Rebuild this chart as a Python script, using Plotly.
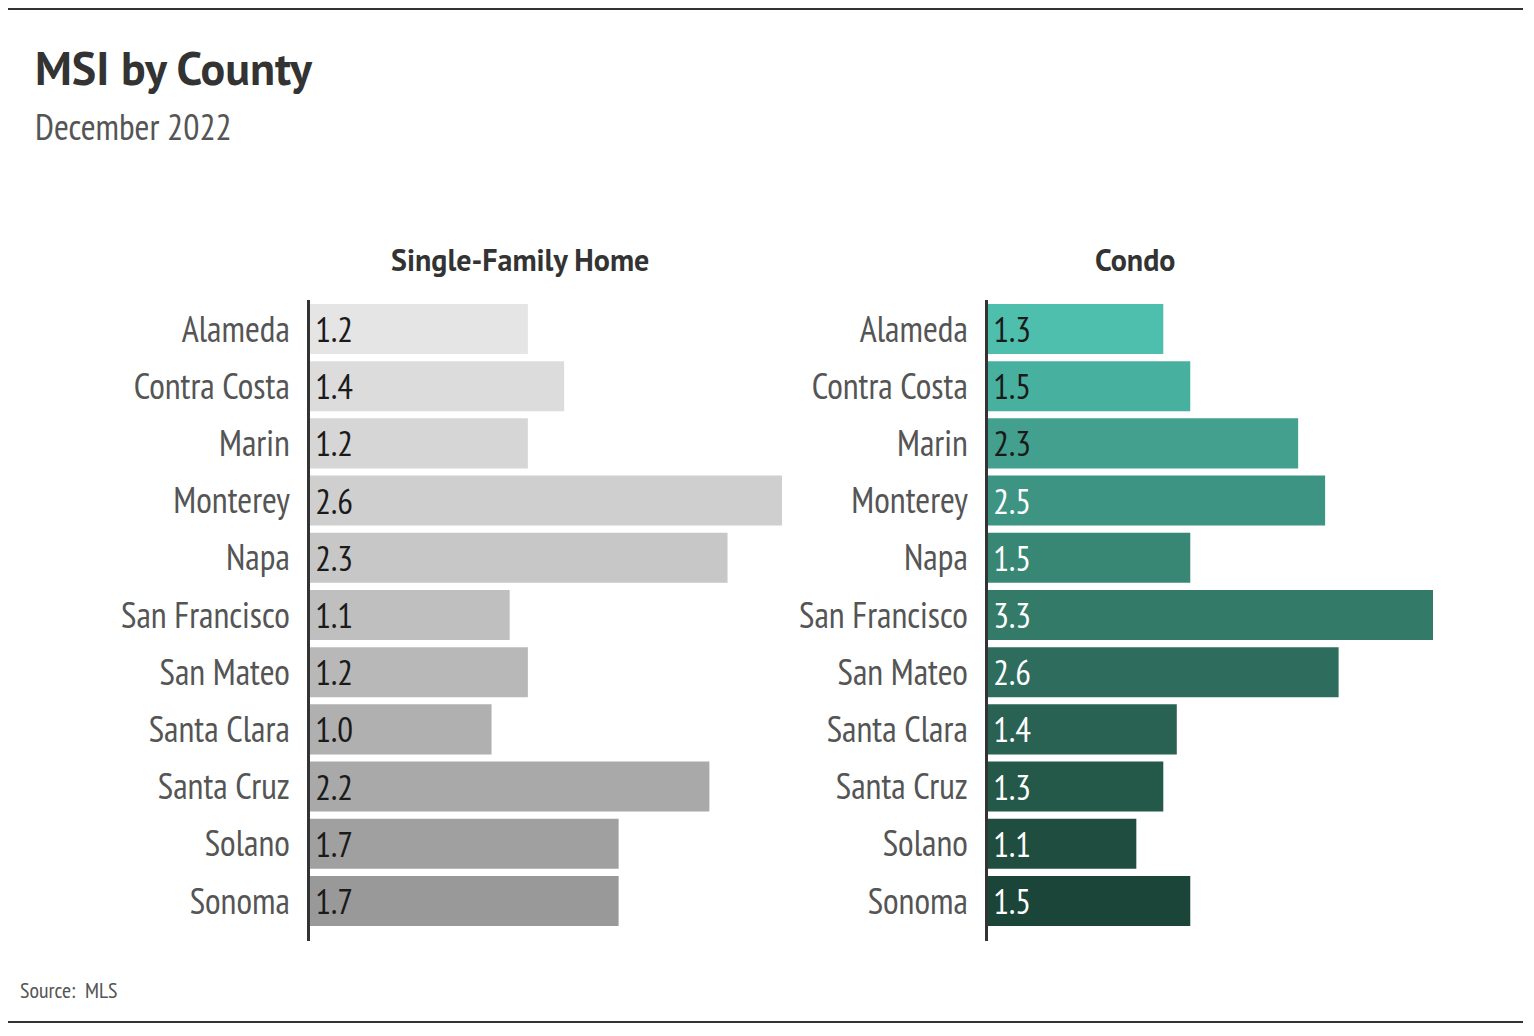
import plotly.graph_objects as go

counties = ["Alameda", "Contra Costa", "Marin", "Monterey", "Napa", "San Francisco",
            "San Mateo", "Santa Clara", "Santa Cruz", "Solano", "Sonoma"]
sfh_msi = [1.2, 1.4, 1.2, 2.6, 2.3, 1.1, 1.2, 1.0, 2.2, 1.7, 1.7]
condo_msi = [1.3, 1.5, 2.3, 2.5, 1.5, 3.3, 2.6, 1.4, 1.3, 1.1, 1.5]

sfh_colors = ["#e5e5e5", "#dcdcdc", "#d6d6d6", "#cfcfcf", "#c7c7c7", "#bfbfbf",
              "#b8b8b8", "#b0b0b0", "#a9a9a9", "#a0a0a0", "#999999"]
condo_colors = ["#4fbfad", "#48b09f", "#43a08f", "#3e9483", "#388774", "#347a69",
                "#2e6d5d", "#296252", "#245848", "#1f4d40", "#1c4539"]
condo_text_colors = ["#1a1a1a"] * 3 + ["#ffffff"] * 8

# page has an 8px body margin; figure is sized to fit inside the window
OFF = 8
W, H = 1534 - 2 * OFF, 1036 - 2 * OFF


def px(x):
    return (x - OFF) / W


def py(y):
    return 1 - (y - OFF) / H


NARROW = "Liberation Sans Narrow, PT Sans Narrow, Arial Narrow, DejaVu Sans Condensed, sans-serif"
BOLD = "PT Sans, Lato, Open Sans, sans-serif"

fig = go.Figure()
fig.add_trace(go.Bar(
    y=counties, x=sfh_msi, orientation="h", xaxis="x", yaxis="y",
    marker=dict(color=sfh_colors, line=dict(width=0)),
    texttemplate="\u200a%{x:.1f}", textposition="inside", insidetextanchor="start",
    textangle=0,
    textfont=dict(family=NARROW, size=35, color="#1a1a1a"), constraintext="none",
    cliponaxis=False, hoverinfo="skip"))
fig.add_trace(go.Bar(
    y=counties, x=condo_msi, orientation="h", xaxis="x2", yaxis="y2",
    marker=dict(color=condo_colors, line=dict(width=0)),
    texttemplate="\u200a%{x:.1f}", textposition="inside", insidetextanchor="start",
    textangle=0,
    textfont=dict(family=NARROW, size=35, color=condo_text_colors), constraintext="none",
    cliponaxis=False, hoverinfo="skip"))

ydom = [py(941), py(300.4)]
yax = dict(domain=ydom, range=[10.7, -0.5], type="category", showgrid=False,
           showline=True, linecolor="#333333", linewidth=3, ticks="", ticklabelstandoff=10,
           tickfont=dict(family=NARROW, size=36, color="#555555"), zeroline=False)
fig.update_layout(
    width=W, height=H, margin=dict(l=0, r=0, t=0, b=0),
    paper_bgcolor="white", plot_bgcolor="white", showlegend=False, bargap=0.125,
    xaxis=dict(domain=[px(310), px(782)], range=[0, 2.6], visible=False, fixedrange=True),
    xaxis2=dict(domain=[px(988), px(1433)], range=[0, 3.3], visible=False, fixedrange=True),
    yaxis=dict(anchor="x", **yax),
    yaxis2=dict(anchor="x2", **yax),
    shapes=[
        dict(type="line", xref="paper", yref="paper", x0=0, x1=px(1523), y0=py(9), y1=py(9),
             line=dict(color="#333333", width=2)),
        dict(type="line", xref="paper", yref="paper", x0=0, x1=px(1523), y0=py(1022), y1=py(1022),
             line=dict(color="#333333", width=2)),
    ],
    annotations=[
        dict(text="<b>MSI by County</b>", x=px(33), y=py(68), xref="paper", yref="paper",
             xanchor="left", yanchor="middle", showarrow=False,
             font=dict(family=BOLD, size=46, color="#333333")),
        dict(text="December 2022", x=px(33), y=py(126), xref="paper", yref="paper",
             xanchor="left", yanchor="middle", showarrow=False,
             font=dict(family=NARROW, size=36, color="#555555")),
        dict(text="<b>Single-Family Home</b>", x=px(520), y=py(259), xref="paper", yref="paper",
             xanchor="center", yanchor="middle", showarrow=False,
             font=dict(family=BOLD, size=30, color="#333333")),
        dict(text="<b>Condo</b>", x=px(1135), y=py(259), xref="paper", yref="paper",
             xanchor="center", yanchor="middle", showarrow=False,
             font=dict(family=BOLD, size=30, color="#333333")),
        dict(text="Source:  MLS", x=px(18), y=py(990), xref="paper", yref="paper",
             xanchor="left", yanchor="middle", showarrow=False,
             font=dict(family=NARROW, size=22, color="#555555")),
    ],
)
fig.write_html("out.html", config={"displayModeBar": False})
